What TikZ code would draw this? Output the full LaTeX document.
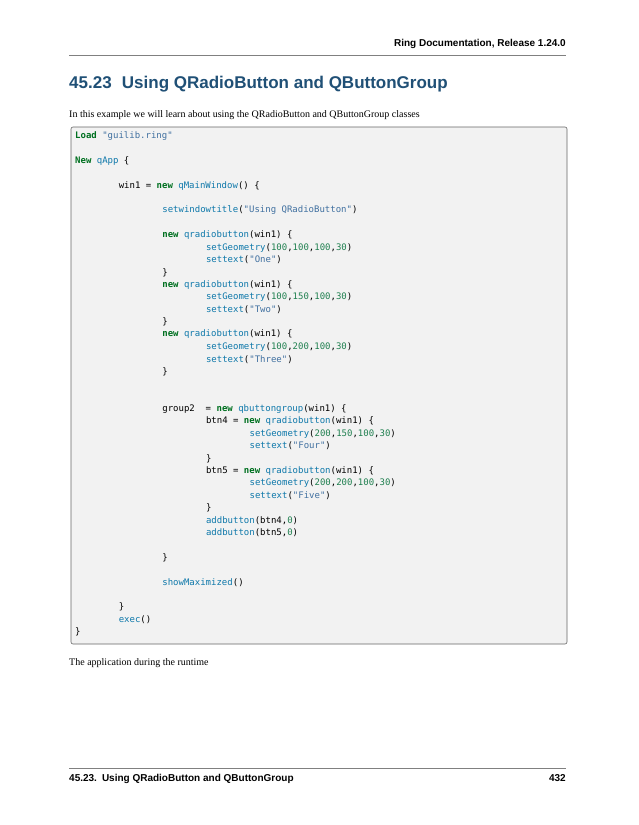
\documentclass[tikz,border=0pt]{standalone}
\usepackage{fontspec}
\setmainfont{Liberation Serif}
\setsansfont{Liberation Sans}
\setmonofont{DejaVu Sans Mono}
\definecolor{kwc}{RGB}{0,112,32}
\definecolor{nmc}{RGB}{14,120,170}
\definecolor{stc}{RGB}{64,112,160}
\definecolor{nbc}{RGB}{32,128,80}
\definecolor{ttl}{RGB}{32,80,118}
\definecolor{codebg}{RGB}{242,242,242}
\newcommand{\kw}[1]{\textcolor{kwc}{\bfseries #1}}
\newcommand{\nm}[1]{\textcolor{nmc}{#1}}
\newcommand{\st}[1]{\textcolor{stc}{#1}}
\newcommand{\nb}[1]{\textcolor{nbc}{#1}}
\newcommand{\cl}[3]{\node[code] (l#1) at ({75+#2*43.6},{136+12.4*(#1-1)}) {#3};}
\tikzset{code/.style={anchor=west,inner sep=0,font=\ttfamily\fontsize{9}{10}\selectfont},
 body/.style={anchor=base west,inner sep=0,font=\fontsize{10}{12}\selectfont}}
\begin{document}
\begin{tikzpicture}[x=1pt,y=-1pt]
\useasboundingbox (0,0) rectangle (638,825);
\fill[white] (0,0) rectangle (638,825);
\node[anchor=base east,inner sep=0,font=\sffamily\bfseries\fontsize{10}{12}\selectfont] (hdr) at (566,46) {Ring Documentation, Release 1.24.0};
\draw[gray,line width=0.8pt] (69,55) -- (566,55);
\node[anchor=base west,inner sep=0,text=ttl,font=\sffamily\bfseries\fontsize{17}{20}\selectfont] (title) at (69,88) {45.23\hspace{0.6em}Using QRadioButton and QButtonGroup};
\node[body] (intro) at (69,117) {In this example we will learn about using the QRadioButton and QButtonGroup classes};
\draw[fill=codebg,draw=gray!80!black,line width=0.6pt,rounded corners=2pt] (71,127) rectangle (567,644);
\cl{1}{0}{\kw{Load} \st{"guilib.ring"}}
\cl{3}{0}{\kw{New} \nm{qApp} \{}
\cl{5}{1}{win1 = \kw{new} \nm{qMainWindow}() \{}
\cl{7}{2}{\nm{setwindowtitle}(\st{"Using QRadioButton"})}
\cl{9}{2}{\kw{new} \nm{qradiobutton}(win1) \{}
\cl{10}{3}{\nm{setGeometry}(\nb{100},\nb{100},\nb{100},\nb{30})}
\cl{11}{3}{\nm{settext}(\st{"One"})}
\cl{12}{2}{\}}
\cl{13}{2}{\kw{new} \nm{qradiobutton}(win1) \{}
\cl{14}{3}{\nm{setGeometry}(\nb{100},\nb{150},\nb{100},\nb{30})}
\cl{15}{3}{\nm{settext}(\st{"Two"})}
\cl{16}{2}{\}}
\cl{17}{2}{\kw{new} \nm{qradiobutton}(win1) \{}
\cl{18}{3}{\nm{setGeometry}(\nb{100},\nb{200},\nb{100},\nb{30})}
\cl{19}{3}{\nm{settext}(\st{"Three"})}
\cl{20}{2}{\}}
\cl{23}{2}{group2\ \ = \kw{new} \nm{qbuttongroup}(win1) \{}
\cl{24}{3}{btn4 = \kw{new} \nm{qradiobutton}(win1) \{}
\cl{25}{4}{\nm{setGeometry}(\nb{200},\nb{150},\nb{100},\nb{30})}
\cl{26}{4}{\nm{settext}(\st{"Four"})}
\cl{27}{3}{\}}
\cl{28}{3}{btn5 = \kw{new} \nm{qradiobutton}(win1) \{}
\cl{29}{4}{\nm{setGeometry}(\nb{200},\nb{200},\nb{100},\nb{30})}
\cl{30}{4}{\nm{settext}(\st{"Five"})}
\cl{31}{3}{\}}
\cl{32}{3}{\nm{addbutton}(btn4,\nb{0})}
\cl{33}{3}{\nm{addbutton}(btn5,\nb{0})}
\cl{35}{2}{\}}
\cl{37}{2}{\nm{showMaximized}()}
\cl{39}{1}{\}}
\cl{40}{1}{\nm{exec}()}
\cl{41}{0}{\}}
\node[body] (runtime) at (69,665) {The application during the runtime};
\draw[gray,line width=0.8pt] (69,768) -- (566,768);
\node[anchor=base west,inner sep=0,font=\sffamily\bfseries\fontsize{10}{12}\selectfont] (ftl) at (69,781) {45.23.\hspace{0.5em}Using QRadioButton and QButtonGroup};
\node[anchor=base east,inner sep=0,font=\sffamily\bfseries\fontsize{10}{12}\selectfont] (ftr) at (566,781) {432};
\end{tikzpicture}
\end{document}
